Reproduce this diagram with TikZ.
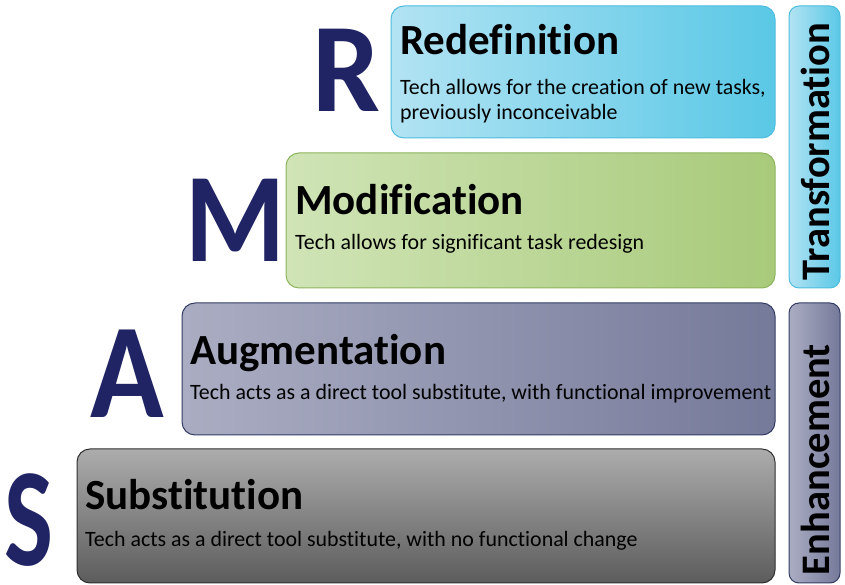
\documentclass[tikz,border=0pt]{standalone}
\usepackage{fontspec}
\setmainfont{Carlito}[Ligatures=NoCommon]
\definecolor{redefblue}{RGB}{178,227,243}
\definecolor{redefdeep}{RGB}{90,200,230}
\definecolor{redefline}{RGB}{78,188,222}
\definecolor{modgreen}{RGB}{208,228,182}
\definecolor{moddeep}{RGB}{168,202,122}
\definecolor{modline}{RGB}{140,180,92}
\definecolor{augslate}{RGB}{170,173,194}
\definecolor{augdeep}{RGB}{118,122,154}
\definecolor{augline}{RGB}{52,60,100}
\definecolor{subgray}{RGB}{172,172,172}
\definecolor{subdeep}{RGB}{92,92,92}
\definecolor{subline}{RGB}{48,48,48}
\definecolor{letternavy}{RGB}{32,35,100}

\newcommand{\bigletter}[1]{\fontsize{#1}{#1}\selectfont\bfseries}

\begin{document}
\begin{tikzpicture}[x=1pt, y=1pt,
    level/.style={rectangle, rounded corners=13pt, inner sep=0pt, line width=1pt},
    title/.style={anchor=base west, inner sep=0pt, font=\fontsize{43}{43}\selectfont\bfseries},
    desc/.style={anchor=base west, inner sep=0pt, align=left, font=\fontsize{21.9}{25}\selectfont},
    letter/.style={anchor=base, inner sep=0pt, text=letternavy, transform shape, font=\bigletter{127}},
    sidebar/.style={rectangle, rounded corners=10pt, inner sep=0pt, line width=1pt, minimum width=51pt},
    sidelabel/.style={rotate=90, inner sep=0pt, font=\fontsize{40.5}{40.5}\selectfont\bfseries}
]
\useasboundingbox (0, 0) rectangle (845, 585);

% Redefinition
\node[level, draw=redefline, left color=redefblue, right color=redefdeep, minimum width=384pt, minimum height=132pt] (redefbox) at (583, 513) {};
\node[letter, xscale=0.95] (rletter) at (346, 473) {R};
\node[title] (redeftitle) at (400, 530) {Redefinition};
\node[desc] (redeftext) at (400, 465) {Tech allows for the creation of new tasks,\\previously inconceivable};

% Modification
\node[level, draw=modline, left color=modgreen, right color=moddeep, minimum width=489pt, minimum height=135pt] (modbox) at (530.5, 364.5) {};
\node[letter, xscale=0.9] (mletter) at (235, 323) {M};
\node[title] (modtitle) at (295, 370) {Modification};
\node[desc] (modtext) at (295, 335) {Tech allows for significant task redesign};

% Augmentation
\node[level, draw=augline, left color=augslate, right color=augdeep, minimum width=593pt, minimum height=132pt] (augbox) at (478.5, 216) {};
\node[letter, xscale=0.9, font=\bigletter{135}] (aletter) at (127, 167) {A};
\node[title] (augtitle) at (190, 220) {Augmentation};
\node[desc] (augtext) at (190, 185) {Tech acts as a direct tool substitute, with functional improvement};

% Substitution
\node[level, draw=subline, top color=subgray, bottom color=subdeep, minimum width=698pt, minimum height=134pt] (subbox) at (426, 69) {};
\node[letter, xscale=0.74, font=\bigletter{140}] (sletter) at (29, 19) {S};
\node[title] (subtitle) at (85, 75) {Substitution};
\node[desc] (subtext) at (85, 38) {Tech acts as a direct tool substitute, with no functional change};

% Side bars
\node[sidebar, draw=redefline, left color=redefblue, right color=redefdeep, minimum height=282pt] (transbar) at (814.5, 438) {};
\node[sidelabel] (translabel) at (815, 433.5) {Transformation};
\node[sidebar, draw=augline, left color=augslate, right color=augdeep, minimum height=280pt] (enhbar) at (814.5, 142) {};
\node[sidelabel] (enhlabel) at (815, 125.5) {Enhancement};

\end{tikzpicture}
\end{document}
